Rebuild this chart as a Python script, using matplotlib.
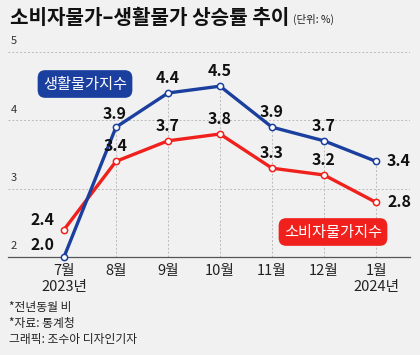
import matplotlib
matplotlib.use("agg")
import matplotlib.pyplot as plt

plt.rcParams["font.family"] = ["Noto Sans CJK KR", "DejaVu Sans"]

months = ["7월\n2023년", "8월", "9월", "10월", "11월", "12월", "1월\n2024년"]
living = [2.0, 3.9, 4.4, 4.5, 3.9, 3.7, 3.4]     # 생활물가지수
consumer = [2.4, 3.4, 3.7, 3.8, 3.3, 3.2, 2.8]   # 소비자물가지수
yticks = [2, 3, 4, 5]

BG = "#f1f1f1"
BLUE = "#1b3f9e"
RED = "#f0201c"

W, H = 420, 355
fig = plt.figure(figsize=(W / 100, H / 100), dpi=100, facecolor=BG)

# axes placed in pixel coordinates
x0, x1 = 8, 410
ytop, ybot = 52, 257
ax = fig.add_axes([x0 / W, (H - ybot) / H, (x1 - x0) / W, (ybot - ytop) / H])
ax.set_facecolor(BG)
xs = list(range(len(months)))
step = 52
ax.set_xlim(-(64 - x0) / step, 6 + (x1 - 376) / step)
ax.set_ylim(2, 5)

for s in ["top", "right", "left"]:
    ax.spines[s].set_visible(False)
ax.spines["bottom"].set_color("#555555")
ax.spines["bottom"].set_linewidth(0.9)

ax.set_yticks([])
for v in yticks[1:]:
    ax.axhline(v, color="#bbbbbb", lw=0.7, ls=(0, (2, 2)), zorder=1)
for v in yticks:
    ax.annotate(str(v), xy=(0, v), xycoords=("axes fraction", "data"),
                xytext=(2, 4), textcoords="offset points",
                ha="left", va="bottom", fontsize=8, color="#333333")

# vertical drop lines from blue points
for x, v in zip(xs[1:], living[1:]):
    ax.plot([x, x], [2, v], color="#bbbbbb", lw=0.7, ls=(0, (2, 2)), zorder=1)

ax.set_xticks(xs)
ax.set_xticklabels(months, fontsize=10.5, color="#222222", linespacing=1.15)
ax.tick_params(axis="x", length=0, pad=5)

ax.plot(xs, consumer, color=RED, lw=2.4, marker="o", ms=4.5, mfc="white",
        mec=RED, mew=1.1, zorder=3, clip_on=False)
ax.plot(xs, living, color=BLUE, lw=2.4, marker="o", ms=4.5, mfc="white",
        mec=BLUE, mew=1.1, zorder=4, clip_on=False)

lab = dict(fontsize=11.5, fontweight="bold", color="#111111", zorder=5)
# blue labels
ax.annotate(f"{living[0]:.1f}", (0, living[0]), xytext=(-7, 3), textcoords="offset points", ha="right", va="bottom", **lab)
ax.annotate(f"{living[1]:.1f}", (1, living[1]), xytext=(-1, 4), textcoords="offset points", ha="center", va="bottom", **lab)
for i in range(2, 6):
    ax.annotate(f"{living[i]:.1f}", (i, living[i]), xytext=(0, 5), textcoords="offset points", ha="center", va="bottom", **lab)
ax.annotate(f"{living[6]:.1f}", (6, living[6]), xytext=(8, 0), textcoords="offset points", ha="left", va="center", **lab)
# red labels
ax.annotate(f"{consumer[0]:.1f}", (0, consumer[0]), xytext=(-7, 1), textcoords="offset points", ha="right", va="bottom", **lab)
for i in range(1, 6):
    ax.annotate(f"{consumer[i]:.1f}", (i, consumer[i]), xytext=(0, 5), textcoords="offset points", ha="center", va="bottom", **lab)
ax.annotate(f"{consumer[6]:.1f}", (6, consumer[6]), xytext=(8, 0), textcoords="offset points", ha="left", va="center", **lab)

# series name boxes
fig.text(85 / W, 1 - 84 / H, "생활물가지수", ha="center", va="center", fontsize=11,
         color="white", bbox=dict(boxstyle="round,pad=0.35,rounding_size=0.5", fc=BLUE, ec="none"))
fig.text(333 / W, 1 - 232 / H, "소비자물가지수", ha="center", va="center", fontsize=11,
         color="white", bbox=dict(boxstyle="round,pad=0.35,rounding_size=0.5", fc=RED, ec="none"))

# title and notes
fig.text(10 / W, 1 - 17 / H, "소비자물가–생활물가 상승률 추이", ha="left", va="center",
         fontsize=14.5, fontweight="heavy", color="#111111")
fig.text(293 / W, 1 - 19 / H, "(단위: %)", ha="left", va="center", fontsize=7.5, color="#222222")
for i, t in enumerate(["*전년동월 비", "*자료: 통계청", "그래픽: 조수아 디자인기자"]):
    fig.text(9 / W, 1 - (307 + 16.5 * i) / H, t, ha="left", va="center", fontsize=8.5, color="#222222")

fig.savefig("out.png", dpi=100, facecolor=BG)
